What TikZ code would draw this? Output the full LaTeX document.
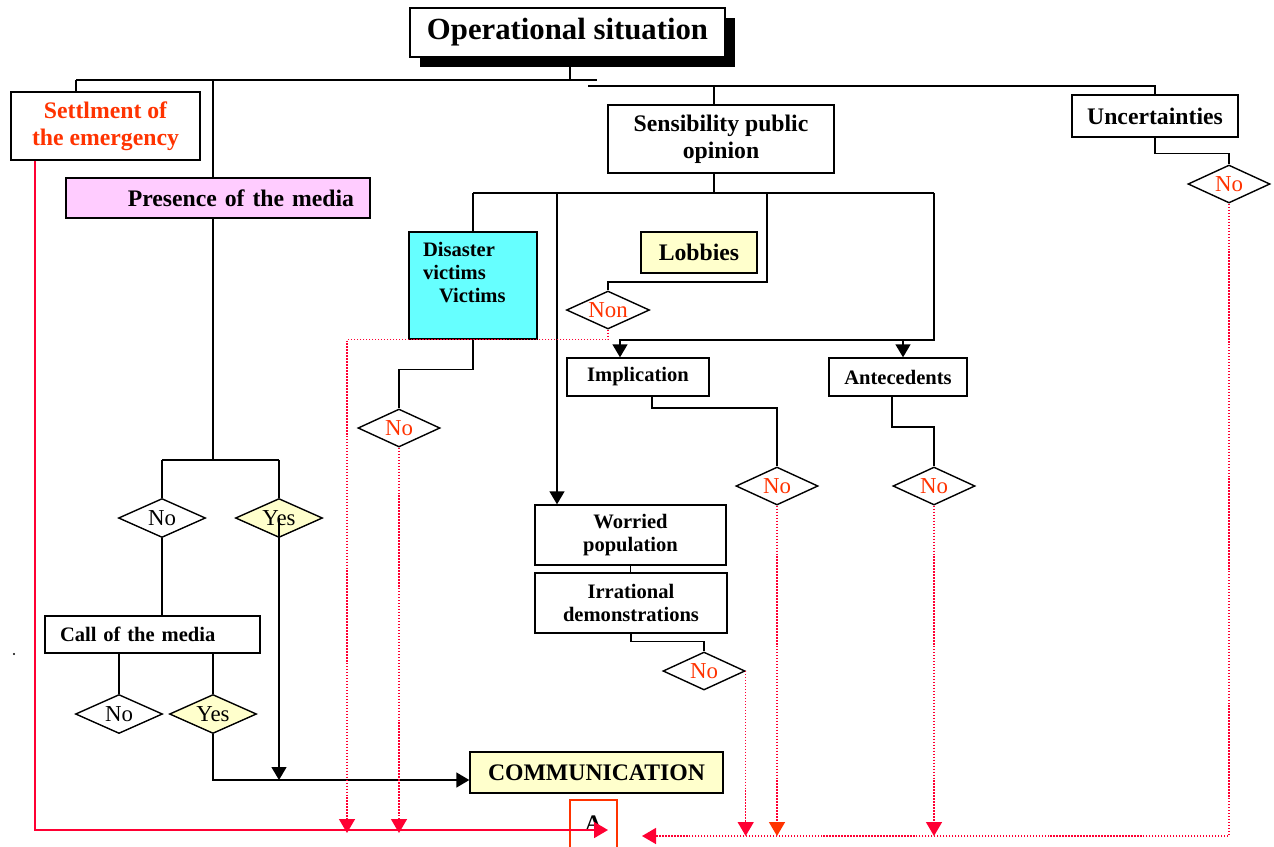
\documentclass[tikz,border=0pt]{standalone}
\usepackage{fontspec}
\setmainfont{Liberation Serif}
\usetikzlibrary{shapes.geometric,arrows.meta,shadows}
\definecolor{emred}{HTML}{FF3300}
\definecolor{linered}{HTML}{FF0033}
\definecolor{paleyellow}{HTML}{FFFFCC}
\definecolor{mediapink}{HTML}{FFCCFF}
\definecolor{cyanbox}{HTML}{66FFFF}
\begin{document}
\begin{tikzpicture}[x=0.02cm,y=-0.02cm,line width=0.8pt,
	>={Triangle[width=0.3cm,length=0.26cm]},
	itembox/.style={draw,fill=white,inner sep=0pt,align=center,font=\bfseries\fontsize{13.5}{15.6}\selectfont},
	smallbox/.style={itembox,font=\bfseries\fontsize{11.7}{13.3}\selectfont},
	choice/.style={diamond,draw,fill=white,aspect=2.2,inner sep=0pt,minimum width=1.74cm,minimum height=0.78cm,font=\fontsize{13}{15}\selectfont},
	nochoice/.style={choice,text=emred,minimum width=1.64cm,minimum height=0.76cm},
	yeschoice/.style={choice,fill=paleyellow},
	redline/.style={draw=linered,line width=1pt},
	dotline/.style={draw=linered,line width=0.8pt,dash pattern=on 0.8pt off 0.9pt},
	redarrow/.style={-{Triangle[width=0.32cm,length=0.28cm]}}]
	\useasboundingbox (0,0) rectangle (1274,846);

	% boxes
	\node[itembox,minimum width=6.3cm,minimum height=0.98cm,font=\bfseries\fontsize{17.5}{20}\selectfont,
		drop shadow={shadow xshift=0.2cm,shadow yshift=-0.2cm,fill=black,opacity=1}] (situ) at (567.5,32.5) {Operational situation};
	\node[itembox,text=emred,minimum width=3.78cm,minimum height=1.36cm] (settle) at (105.5,126) {Settlment of\\the emergency};
	\node[itembox,fill=mediapink,text width=5.44cm,inner xsep=0.32cm,align=right,minimum height=0.8cm] (media) at (218,198) {Presence of the media};
	\node[itembox,minimum width=4.52cm,minimum height=1.36cm,text depth=0.1cm] (opinion) at (721,139) {Sensibility public\\opinion};
	\node[itembox,minimum width=3.32cm,minimum height=0.84cm] (uncert) at (1155,116) {Uncertainties};
	\node[smallbox,fill=cyanbox,text width=2cm,inner xsep=0.28cm,align=left,text height=0.48cm,text depth=1.66cm] (victims) at (473,285.5) {Disaster\\victims\\\hspace*{0.32cm}Victims};
	\node[itembox,fill=paleyellow,minimum width=2.32cm,minimum height=0.82cm] (lobby) at (699,252.5) {Lobbies};
	\node[smallbox,minimum width=2.84cm,minimum height=0.76cm] (implic) at (638,377) {Implication};
	\node[smallbox,minimum width=2.76cm,minimum height=0.76cm] (antec) at (898,377) {Antecedents};
	\node[smallbox,minimum width=3.82cm,minimum height=1.2cm] (worried) at (630.5,535) {Worried\\population};
	\node[smallbox,minimum width=3.84cm,minimum height=1.2cm] (irrat) at (631,603) {Irrational\\demonstrations};
	\node[smallbox,text width=3.7cm,inner xsep=0.3cm,align=left,minimum height=0.74cm] (callm) at (152.5,634.5) {Call of the media};
	\node[itembox,fill=paleyellow,minimum width=5.06cm,minimum height=0.82cm] (comm) at (596.5,772.5) {COMMUNICATION};
	\node[draw=emred,line width=0.6pt,minimum width=0.94cm,minimum height=0.96cm,inner sep=0pt,font=\bfseries\fontsize{13.5}{15}\selectfont] (abox) at (593.5,824) {A};

	% decisions
	\node[choice] (nomedia) at (162,518) {No};
	\node[yeschoice] (yesmedia) at (279,518) {Yes};
	\node[choice] (nocall) at (119,714) {No};
	\node[yeschoice] (yescall) at (213,714) {Yes};
	\node[nochoice,minimum width=1.66cm] (nolobby) at (608,310) {Non};
	\node[nochoice] (novict) at (399,428) {No};
	\node[nochoice] (noimpl) at (777,486) {No};
	\node[nochoice] (noante) at (934,486) {No};
	\node[nochoice] (noirr) at (704,671) {No};
	\node[nochoice] (nounc) at (1229,184) {No};

	% top level
	\coordinate (sitj) at (570,80);
	\coordinate (topl) at (76,80);
	\coordinate (topm) at (213,80);
	\coordinate (topr) at (597,80);
	\coordinate (busl) at (588,86);
	\coordinate (opj) at (714,86);
	\coordinate (busr) at (1155,86);
	\draw (situ.south -| sitj) -- (sitj);
	\draw (topl) -- (topr);
	\draw (topl) -- (settle.north -| topl);
	\draw (topm) -- (media.north -| topm);
	\draw (busl) -- (busr) -- (uncert.north);
	\draw (opj) -- (opinion.north -| opj);

	% media branch
	\coordinate (medj) at (213,460);
	\coordinate (medl) at (162,460);
	\coordinate (medr) at (279,460);
	\coordinate (commj) at (279,780);
	\draw (media.south -| medj) -- (medj);
	\draw (medl) -- (medr);
	\draw (medl) -- (nomedia.north);
	\draw (medr) -- (yesmedia.north);
	\draw (nomedia.south) -- (callm.north -| nomedia.south);
	\draw (callm.south -| nocall) -- (nocall.north);
	\draw (callm.south -| yescall) -- (yescall.north);
	\draw[->] (yesmedia.center) -- (commj);
	\draw[->] (yescall.south) |- (commj) -- (commj -| comm.west);

	% opinion branch
	\coordinate (opb) at (714,193);
	\coordinate (opb1) at (473,193);
	\coordinate (opb2) at (557,193);
	\coordinate (opb3) at (767,193);
	\coordinate (opb4) at (934,193);
	\coordinate (lobj) at (608,282);
	\coordinate (antj1) at (620,340);
	\coordinate (antj2) at (903,340);
	\coordinate (impj) at (652,408);
	\coordinate (antj) at (892,427);
	\draw (opinion.south -| opb) -- (opb);
	\draw (opb1) -- (opb4);
	\draw (opb1) -- (victims.north);
	\draw[->] (opb2) -- (worried.north -| opb2);
	\draw (opb3) |- (lobj) -- (nolobby.north);
	\draw[->] (opb4) |- (antj1) -- (implic.north -| antj1);
	\draw[->] (antj2) -- (antec.north -| antj2);
	\draw (victims.south) -- ++(0,30) -| (novict.north);
	\draw (implic.south -| impj) -- (impj) -| (noimpl.north);
	\draw (antec.south -| antj) -- (antj) -| (noante.north);
	\draw (worried.south) -- (worried.south |- irrat.north);
	\draw (irrat.south) -- ++(0,8) -| (noirr.north);
	\draw (uncert.south) -- ++(0,16) -| (nounc.north);

	% red returns to A
	\coordinate (redc) at (35,830);
	\coordinate (redend) at (608,830);
	\coordinate (dl1) at (347,833);
	\coordinate (dl2) at (399,833);
	\coordinate (dr1) at (746,836);
	\coordinate (dr2) at (777,836);
	\coordinate (dr3) at (934,836);
	\coordinate (drend) at (642,836);
	\draw[redline,redarrow] (settle.south -| redc) -- (redc) -- (redend);
	\draw[dotline,redarrow] (nolobby.south) -- ++(0,10) -| (dl1);
	\draw[dotline,redarrow] (novict.south) -- (dl2);
	\draw[dotline,redarrow] (noirr.east) -- (noirr.east |- dr1);
	\draw[dotline,-{Triangle[width=0.32cm,length=0.28cm,color=emred]}] (noimpl.south) -- (dr2);
	\draw[dotline,redarrow] (noante.south) -- (dr3);
	\draw[dotline,redarrow] (nounc.south) |- (drend);
	\fill (14,654) circle (0.7pt);
\end{tikzpicture}
\end{document}
